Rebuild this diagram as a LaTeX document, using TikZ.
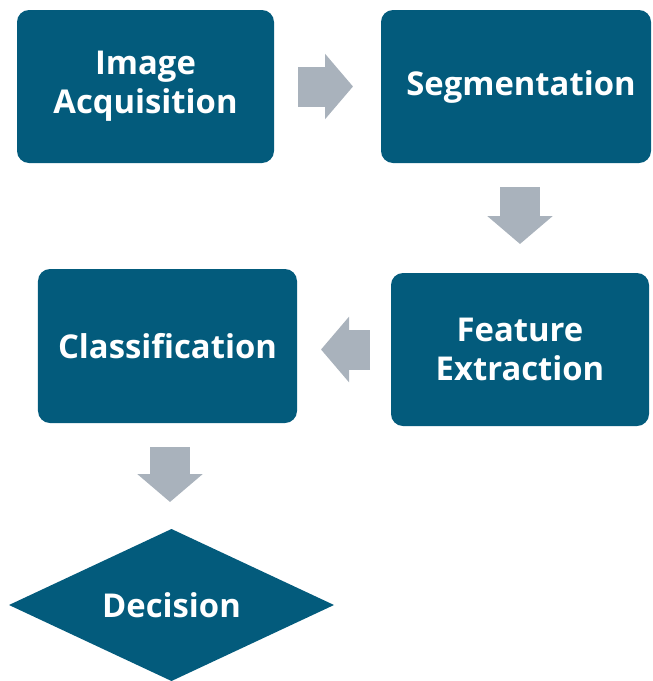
\documentclass[tikz,border=0pt]{standalone}
\usepackage{fontspec}
\setmainfont{Open Sans}
\usepackage{tikz}
\usetikzlibrary{positioning,arrows.meta,calc,shapes.geometric}
\usepackage{xcolor}
\definecolor{stepc}{RGB}{3,91,124}
\definecolor{flowc}{RGB}{169,178,188}

\begin{document}
\begin{tikzpicture}[
  font=\fontsize{28}{33}\selectfont\bfseries,
  blk/.style 2 args={
    rectangle, rounded corners=0.36cm, fill=stepc, text=white,
    align=center, outer sep=0pt, minimum width=#1, minimum height=#2
  },
  dec/.style={
    diamond, fill=stepc, text=white, outer sep=0pt, aspect=2.14,
    minimum width=9.75cm, minimum height=4.56cm
  },
  flow/.style={
    draw=flowc, line width=1.2cm,
    -{Triangle[width=1.92cm, length=0.84cm]}
  },
]
\useasboundingbox (0,0) rectangle (19.56,-20.43);
\clip (0,0) rectangle (19.56,-20.43);

% ---- top row ----
\node[blk={7.71cm}{4.59cm}] (acq) at (4.365, -2.595) {Image\\Acquisition};
\node[blk={8.1cm}{4.59cm}] (seg) at (15.48, -2.595) {\hspace{0.3cm}Segmentation};

% ---- middle row ----
\node[blk={7.74cm}{4.59cm}] (feat) at (15.6, -10.485) {Feature\\Extraction};
\node[blk={7.77cm}{4.62cm}] (cls) at (5.025, -10.38) {Classification};

% ---- bottom ----
\node[dec] (dec) at (5.145, -18.15) {Decision};

% ---- block arrows ----
\draw[flow, shorten <=0.72cm, shorten >=0.84cm] (acq.east) -- (seg.west);
\draw[flow, shorten <=0.72cm, shorten >=0.87cm] (feat.north |- seg.south) -- (feat.north);
\draw[flow, shorten <=0.63cm, shorten >=0.72cm] (feat.west) -- (feat.west -| cls.east);
\draw[flow, shorten <=0.72cm, shorten >=0.81cm] ($(cls.south)+(0.075,0)$) -- ($(cls.south |- dec.north)+(0.075,0)$);

\end{tikzpicture}
\end{document}
